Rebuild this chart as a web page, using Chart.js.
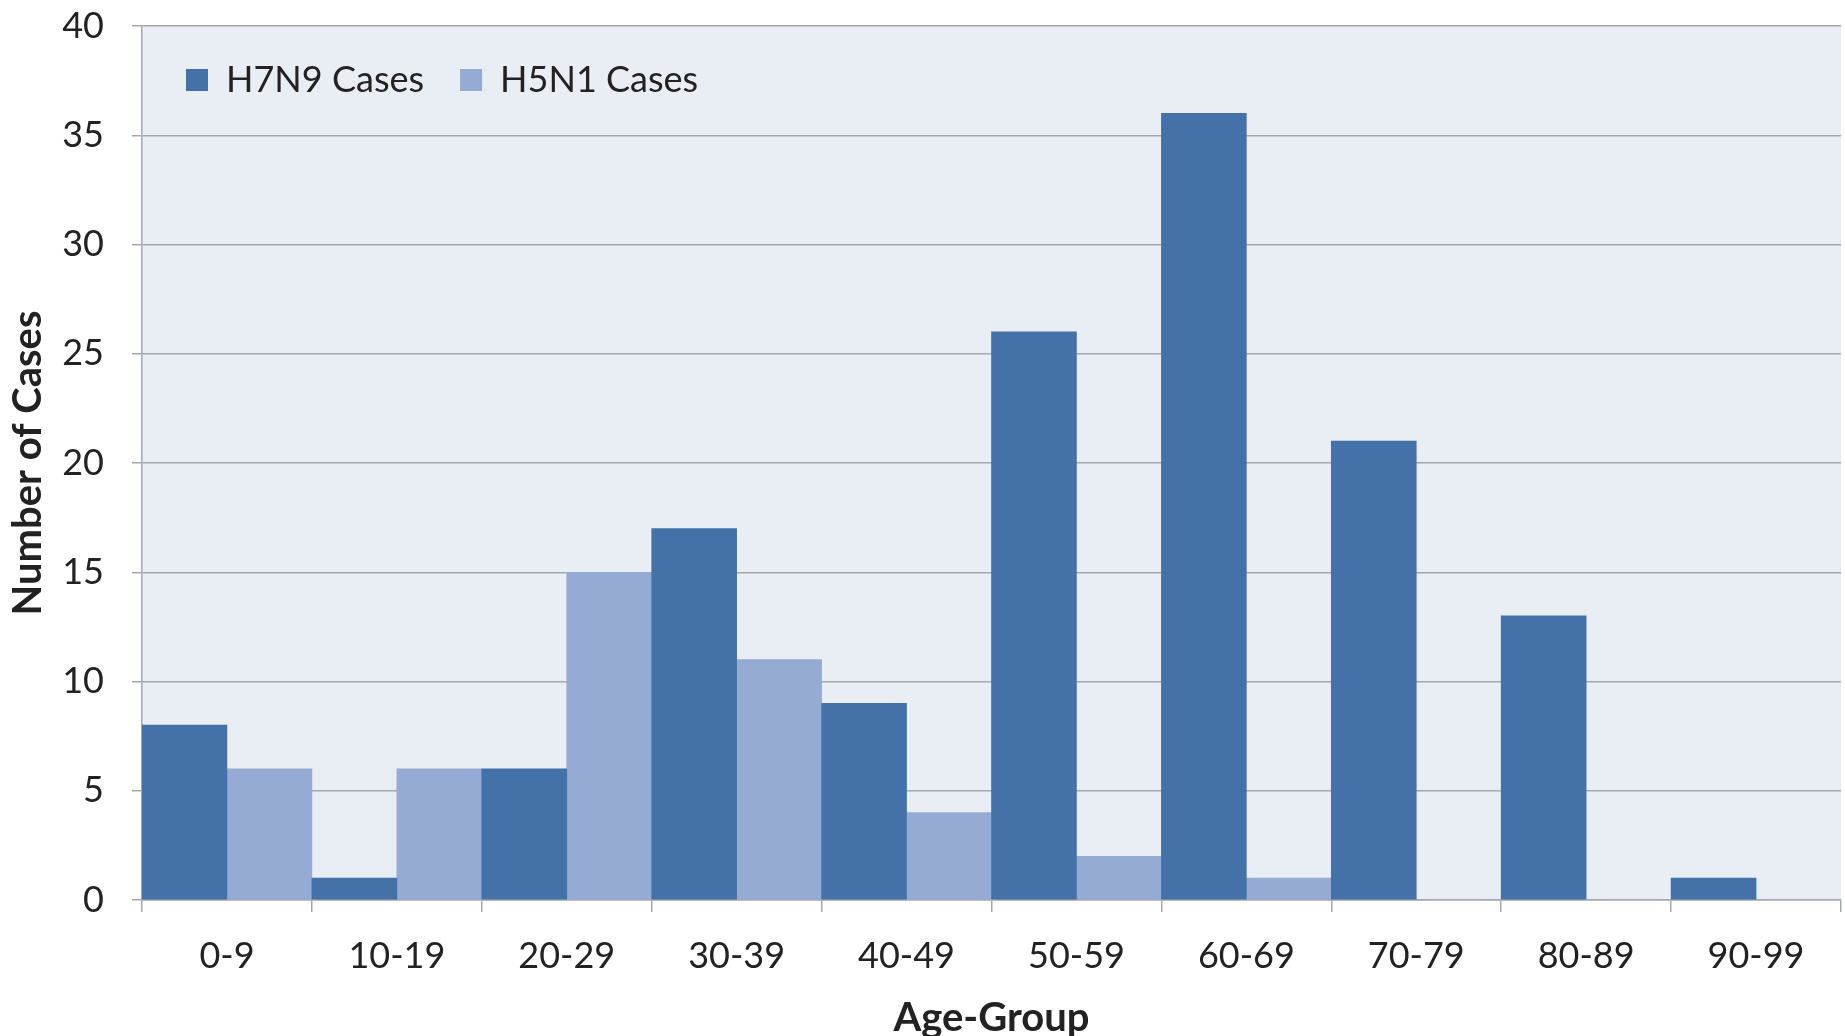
<!DOCTYPE html>
<html>
<head>
<meta charset="utf-8">
<script src="https://cdn.jsdelivr.net/npm/chart.js@4/dist/chart.umd.min.js"></script>
<style>
  html, body { margin: 0; padding: 0; background: #ffffff; }
  #wrap { width: 1845px; height: 1036px; }
</style>
</head>
<body>
<div id="wrap"><canvas id="c" width="1845" height="1036"></canvas></div>
<script>
const categories = ["0-9", "10-19", "20-29", "30-39", "40-49", "50-59", "60-69", "70-79", "80-89", "90-99"];
const h7n9Cases = [8, 1, 6, 17, 9, 26, 36, 21, 13, 1];
const h5n1Cases = [6, 6, 15, 11, 4, 2, 1, 0, 0, 0];
const seriesNames = ["H7N9 Cases", "H5N1 Cases"];
const yTitle = "Number of Cases";
const xTitle = "Age-Group";

const plotBg = {
  id: 'plotBg',
  beforeDraw(chart) {
    const a = chart.chartArea, ctx = chart.ctx;
    ctx.save();
    ctx.fillStyle = '#e9edf4';
    ctx.fillRect(a.left, a.top, a.right - a.left, a.bottom - a.top);
    ctx.restore();
  }
};

// lay the in-plot legend out as a single row, anchored to the plot's left edge
const rowLegend = {
  id: 'rowLegend',
  beforeLayout(chart) {
    if (chart.legend) chart.legend.isHorizontal = () => true;
  },
  afterLayout(chart) {
    const lg = chart.legend, a = chart.chartArea;
    if (!lg) return;
    lg.left = a.left + 8;
    lg.right = a.right;
    lg.top = a.top;
  }
};

const gridColor = '#a5a8ae';
const FONT = 'Lato';

new Chart(document.getElementById('c'), {
  type: 'bar',
  data: {
    labels: categories,
    datasets: [
      { label: seriesNames[0], data: h7n9Cases, backgroundColor: '#4472a8', borderWidth: 0,
        categoryPercentage: 1.0, barPercentage: 1.0 },
      { label: seriesNames[1], data: h5n1Cases, backgroundColor: '#95abd3', borderWidth: 0,
        categoryPercentage: 1.0, barPercentage: 1.0 }
    ]
  },
  options: {
    responsive: false,
    animation: false,
    devicePixelRatio: 1,
    layout: { padding: { top: 26, right: 4, left: 0, bottom: 0 } },
    plugins: {
      legend: {
        position: 'chartArea',
        align: 'start',
        labels: {
          boxWidth: 22, boxHeight: 22, padding: 36,
          color: '#222222',
          font: { family: FONT, size: 36, lineHeight: 0.5 }
        }
      },
      tooltip: { enabled: false }
    },
    scales: {
      x: {
        afterFit(s) { s.height = 136; },
        grid: { display: true, drawOnChartArea: false, drawTicks: true, tickLength: 12,
                color: gridColor, lineWidth: 1.5, offset: true },
        border: { display: true, color: gridColor, width: 1.5 },
        ticks: { color: '#222222', font: { family: FONT, size: 36 }, padding: 23, maxRotation: 0 },
        title: { display: true, text: xTitle, color: '#222222',
                 font: { family: FONT, size: 40, weight: 'bold', lineHeight: 0.9 }, padding: { top: 0, bottom: 0 } }
      },
      y: {
        min: 0, max: 40,
        afterFit(s) { s.width = 142; s.paddingTop = 0; s.paddingBottom = 0; },
        ticks: { stepSize: 5, color: '#222222', font: { family: FONT, size: 36 }, padding: 28 },
        grid: { color: gridColor, lineWidth: 1.5, tickLength: 10, drawTicks: true },
        border: { display: true, color: gridColor, width: 1.5 },
        title: { display: true, text: yTitle, color: '#222222',
                 font: { family: FONT, size: 40, weight: 'bold' }, padding: { top: 4, bottom: 0 } }
      }
    }
  },
  plugins: [plotBg, rowLegend]
});
</script>
</body>
</html>
